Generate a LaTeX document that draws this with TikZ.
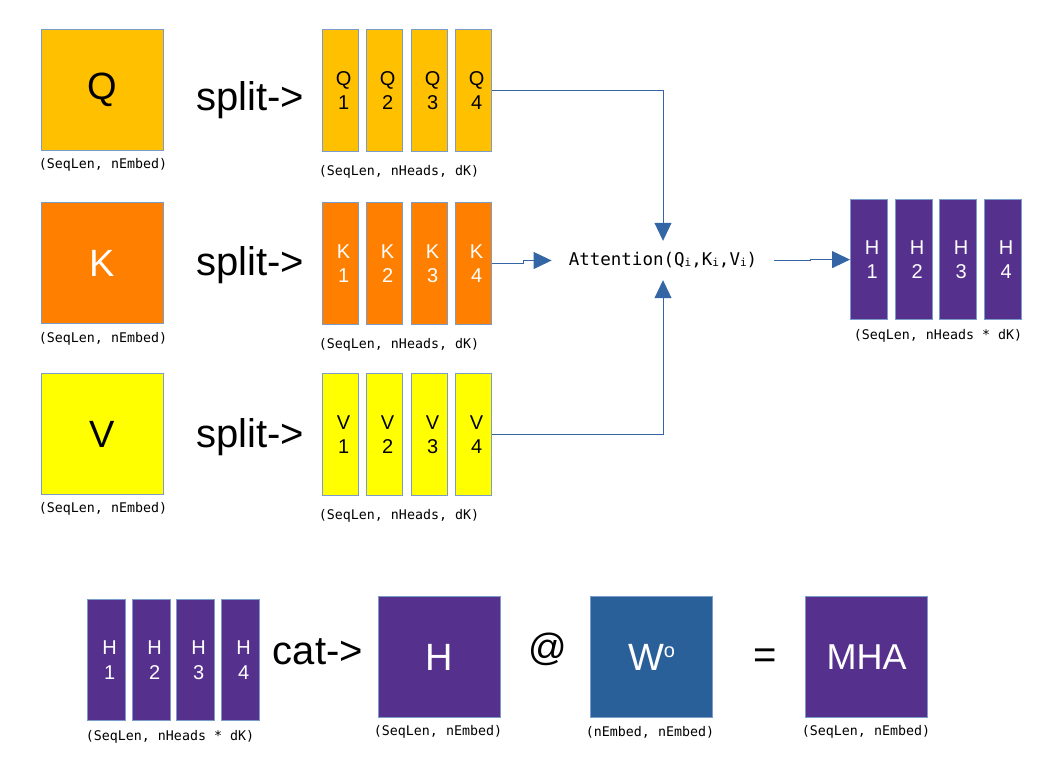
\documentclass[tikz,border=0pt]{standalone}
\usepackage{fontspec}
\setmainfont{Liberation Sans}
\newfontfamily\mono{DejaVu Sans Mono}
\usetikzlibrary{arrows.meta}
\definecolor{cQ}{HTML}{FFC000}
\definecolor{cK}{HTML}{FF8000}
\definecolor{cV}{HTML}{FFFF00}
\definecolor{cP}{HTML}{55308D}
\definecolor{cW}{HTML}{2A6099}
\definecolor{bd}{HTML}{7B9CC8}
\definecolor{ln}{HTML}{3465A4}
\newcommand{\smi}{\raisebox{-1pt}{\fontsize{11}{11}\selectfont i}}
\begin{document}
\begin{tikzpicture}[x=1pt,y=-1pt,
  bigbox/.style={draw=bd, line width=1.2pt, minimum width=122pt, minimum height=121pt, anchor=north west, inner sep=0pt, font=\fontsize{38}{40}\selectfont},
  slim/.style={draw=bd, line width=1.2pt, minimum width=36pt, minimum height=122pt, anchor=north west, inner sep=0pt},
  slimtxt/.style={font=\fontsize{20}{24.5}\selectfont, align=center, inner sep=0pt},
  capt/.style={font=\mono\fontsize{13.3}{15}\selectfont, inner sep=0pt},
  op/.style={font=\fontsize{40}{44}\selectfont, inner sep=0pt},
  conn/.style={draw=ln, line width=1pt, -{Triangle[length=18pt,width=17pt]}}
]
\useasboundingbox (0,0) rectangle (1055,765);

% ---------- Q row
\node[bigbox, fill=cQ] (Q) at (41,29) {Q};
\node[capt] (Qc) at (103,165) {(SeqLen, nEmbed)};
\node[op] (sq) at (250,100) {split->};
\foreach \i/\x in {1/322,2/366,3/411,4/455}{
  \node[slim, fill=cQ] (q\i) at (\x,29) {};
  \node[slimtxt] (qt\i) at ([xshift=3pt]q\i.center) {Q\\\i};
}
\node[capt] (qc) at (399,172) {(SeqLen, nHeads, dK)};

% ---------- K row
\node[bigbox, fill=cK, text=white] (K) at (41,202) {K};
\node[capt] (Kc) at (103,339) {(SeqLen, nEmbed)};
\node[op] (sk) at (250,265) {split->};
\foreach \i/\x in {1/322,2/366,3/411,4/455}{
  \node[slim, fill=cK] (k\i) at (\x,202) {};
  \node[slimtxt, text=white] (kt\i) at ([xshift=3pt]k\i.center) {K\\\i};
}
\node[capt] (kc) at (399,345) {(SeqLen, nHeads, dK)};

% ---------- V row
\node[bigbox, fill=cV] (V) at (41,373) {V};
\node[capt] (Vc) at (103,509) {(SeqLen, nEmbed)};
\node[op] (sv) at (250,437) {split->};
\foreach \i/\x in {1/322,2/366,3/411,4/455}{
  \node[slim, fill=cV] (v\i) at (\x,373) {};
  \node[slimtxt] (vt\i) at ([xshift=3pt]v\i.center) {V\\\i};
}
\node[capt] (vc) at (399,516) {(SeqLen, nHeads, dK)};

% ---------- Attention
\node[font=\mono\fontsize{17.5}{19}\selectfont, inner xsep=17pt, inner ysep=0pt, minimum height=39pt] (att) at (663,260.5)
  {Attention(Q\smi,K\smi,V\smi)};

% ---------- H output (right)
\foreach \i/\x in {1/850,2/895,3/939,4/984}{
  \node[slim, fill=cP, minimum width=37pt, minimum height=120pt] (h\i) at (\x,199) {};
  \node[slimtxt, text=white] (ht\i) at ([xshift=3pt]h\i.center) {H\\\i};
}
\node[capt] (hc) at (938,336) {(SeqLen, nHeads * dK)};

% ---------- connectors
\draw[conn] (q4.east) -| (att.north);
\draw[conn] (v4.east) -| (att.south);
\draw[conn] (k4.east) -- ++(31,0) |- (att.west);
\draw[conn] (att.east) -- ++(36,0) |- (h1.west);

% ---------- bottom row
\foreach \i/\x in {1/87,2/132,3/176,4/221}{
  \node[slim, fill=cP, minimum width=38pt, minimum height=121pt] (b\i) at (\x,599) {};
  \node[slimtxt, text=white] (bt\i) at ([xshift=3pt]b\i.center) {H\\\i};
}
\node[capt] (bc) at (170,737) {(SeqLen, nHeads * dK)};
\node[op] (cat) at (318,652) {cat->};
\node[bigbox, fill=cP, text=white] (H) at (378,596) {H};
\node[capt] (Hc) at (438,732) {(SeqLen, nEmbed)};
\node[op, font=\fontsize{38}{40}\selectfont] (at) at (548,649) {@};
\node[bigbox, fill=cW, text=white] (W) at (590,596) {W\raisebox{13pt}{\fontsize{20}{20}\selectfont o}};
\node[capt] (Wc) at (650,732) {(nEmbed, nEmbed)};
\node[op] (eq) at (765,659) {=};
\node[bigbox, fill=cP, text=white, font=\fontsize{36}{40}\selectfont] (M) at (805,596) {MHA};
\node[capt] (Mc) at (866,732) {(SeqLen, nEmbed)};
\end{tikzpicture}
\end{document}
